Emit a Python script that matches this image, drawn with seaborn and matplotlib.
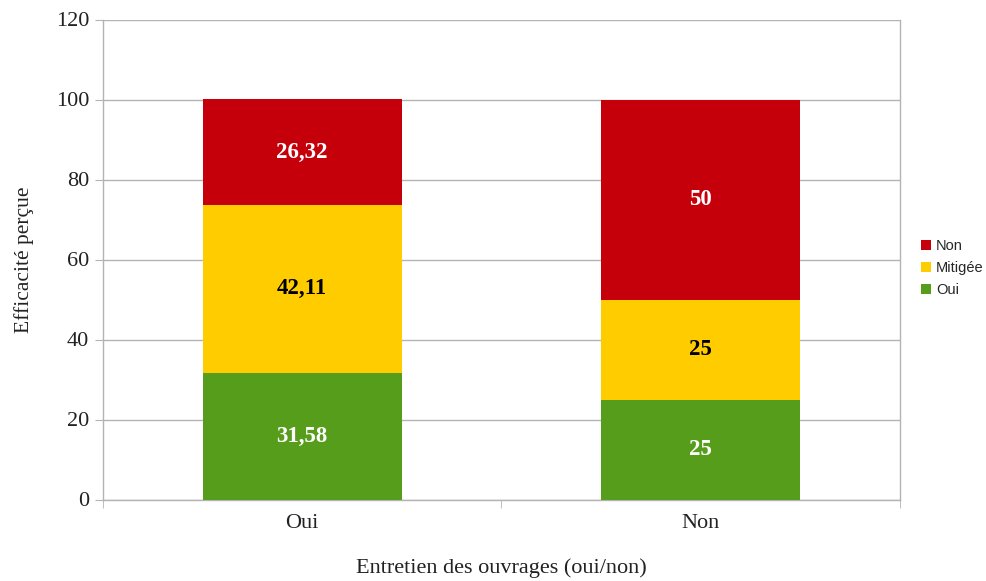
import matplotlib
matplotlib.use("Agg")
import matplotlib.pyplot as plt
import seaborn as sns
import pandas as pd
from matplotlib.patches import Patch

# data
categories = ["Oui", "Non"]
oui = [31.58, 25]
mitigee = [42.11, 25]
non = [26.32, 50]

series_names = ["Oui", "Mitigée", "Non"]
colors = {"Oui": "#579D1C", "Mitigée": "#FFCC00", "Non": "#C5000B"}
label_colors = {"Oui": "white", "Mitigée": "black", "Non": "white"}

sns.set_style("white")
plt.rcParams["font.family"] = ["Liberation Serif", "DejaVu Serif"]

df = pd.DataFrame({"cat": categories, "Oui": oui, "Mitigée": mitigee, "Non": non})
df["c_oui"] = df["Oui"]
df["c_mit"] = df["Oui"] + df["Mitigée"]
df["c_non"] = df["c_mit"] + df["Non"]

fig = plt.figure(figsize=(9.87, 5.81), dpi=100)
ax = fig.add_axes([103 / 987, 1 - 499.5 / 581, 797 / 987, 480 / 581])

# stacked bars: draw cumulative totals from top segment down
for col, name in [("c_non", "Non"), ("c_mit", "Mitigée"), ("c_oui", "Oui")]:
    sns.barplot(data=df, x="cat", y=col, color=colors[name], saturation=1,
                width=0.5, ax=ax, zorder=3, linewidth=0)

# segment labels
for i, cat in enumerate(categories):
    base = 0
    for name in series_names:
        v = df.loc[i, name]
        txt = f"{v:g}".replace(".", ",")
        ax.text(i, base + v / 2, txt, ha="center", va="center", fontsize=16.5,
                fontweight="bold", color=label_colors[name], zorder=4)
        base += v

ax.set_ylim(0, 120)
ax.set_xlim(-0.5, 1.5)
ax.set_yticks(range(0, 121, 20))
ax.yaxis.grid(True, color="#b3b3b3", linewidth=1, zorder=0)
ax.set_axisbelow(True)

for side in ["left", "right", "bottom"]:
    ax.spines[side].set_visible(True)
    ax.spines[side].set_color("#b3b3b3")
    ax.spines[side].set_linewidth(1)
ax.spines["top"].set_visible(False)

ax.tick_params(axis="y", which="major", left=True, length=6, color="#b3b3b3",
               labelsize=16, labelcolor="#222222", pad=4)
ax.tick_params(axis="x", which="major", bottom=False, labelsize=16,
               labelcolor="#222222", pad=7)
ax.set_xticks([-0.5, 0.5, 1.5], minor=True)
ax.tick_params(axis="x", which="minor", bottom=True, length=6, color="#b3b3b3")

ax.set_xlabel("Entretien des ouvrages (oui/non)", fontsize=16, color="#222222",
              labelpad=18)
ax.set_ylabel("Efficacité perçue", fontsize=15.5, color="#222222", labelpad=16)

handles = [Patch(facecolor=colors[n], edgecolor="none", label=n)
           for n in ["Non", "Mitigée", "Oui"]]
fig.legend(handles=handles, loc="center left", bbox_to_anchor=(914 / 987, 1 - 268 / 581),
           frameon=False, prop={"family": "Liberation Sans", "size": 10.5},
           handlelength=0.7, handleheight=0.7, handletextpad=0.3,
           labelspacing=0.55, borderpad=0)

fig.savefig("out.png", dpi=100)
